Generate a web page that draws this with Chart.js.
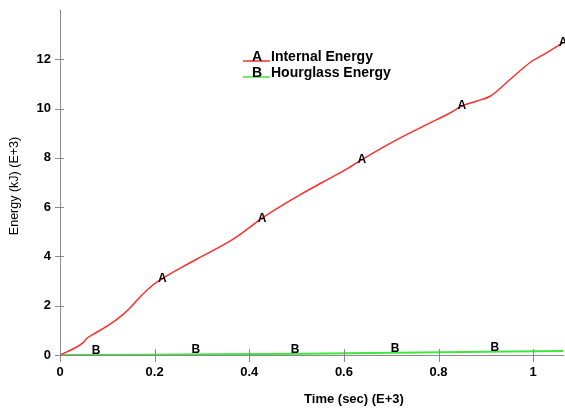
<!DOCTYPE html>
<html>
<head>
<meta charset="utf-8">
<script src="https://cdn.jsdelivr.net/npm/chart.js@4"></script>
<style>
  html, body { margin: 0; padding: 0; background: #fff; }
  #wrap { width: 565px; height: 409px; position: relative; }
</style>
</head>
<body>
<div id="wrap"><canvas id="energy-chart"></canvas></div>
<script>
// Energy history: internal vs hourglass (both scaled E+3)

const timeA = [0, 0.049, 0.057, 0.072, 0.106, 0.134, 0.15, 0.169, 0.197, 0.216, 0.261, 0.31, 0.366, 0.401, 0.427, 0.472, 0.507, 0.556, 0.6, 0.638, 0.718, 0.782, 0.824, 0.849, 0.88, 0.909, 0.951, 0.993, 1.028, 1.063];
const internalEnergy = [0, 0.5, 0.68, 0.86, 1.25, 1.66, 1.95, 2.35, 2.85, 3.1, 3.6, 4.1, 4.7, 5.18, 5.55, 6.1, 6.5, 7.02, 7.48, 7.93, 8.8, 9.42, 9.82, 10.1, 10.3, 10.5, 11.18, 11.86, 12.26, 12.67];

const timeB = [0, 0.18, 0.33, 0.52, 0.65, 0.81, 0.95, 1.063];
const hourglassEnergy = [0, 0.01, 0.03, 0.05, 0.08, 0.11, 0.14, 0.16];

// curve id letters sitting on the lines
const markerTimeA = [0.216, 0.427, 0.638, 0.849, 1.063];
const markerEnergyA = [3.1, 5.55, 7.93, 10.1, 12.67];
const markerTimeB = [0.076, 0.287, 0.497, 0.708, 0.919];
const markerEnergyB = [0.004, 0.025, 0.05, 0.09, 0.13];

const seriesNames = ['Internal Energy', 'Hourglass Energy'];
const seriesLetters = ['A', 'B'];
const seriesColors = ['#ff2d2d', '#3ee63e'];

const xTicks = [0, 0.2, 0.4, 0.6, 0.8, 1];
const yTicks = [0, 2, 4, 6, 8, 10, 12];

const FONT = '"Liberation Sans", Arial, sans-serif';

function pts(xs, ys) {
    return xs.map((x, i) => ({ x: x, y: ys[i] }));
}

const axisGray = '#8a8a8a';

const decorPlugin = {
    id: 'decor',
    afterDraw(chart) {
        const ctx = chart.ctx;
        const xs = chart.scales.x;
        const ys = chart.scales.y;
        const area = chart.chartArea;
        ctx.save();

        // tick marks crossing the axes
        ctx.strokeStyle = axisGray;
        ctx.lineWidth = 1;
        ctx.beginPath();
        xTicks.forEach(v => {
            const px = Math.round(xs.getPixelForValue(v)) + 0.5;
            ctx.moveTo(px, area.bottom - 6);
            ctx.lineTo(px, area.bottom + 7);
        });
        yTicks.forEach(v => {
            const py = Math.round(ys.getPixelForValue(v)) + 0.5;
            ctx.moveTo(area.left - 5, py);
            ctx.lineTo(area.left + 4, py);
        });
        ctx.stroke();

        // letters on the curves
        ctx.fillStyle = '#000';
        ctx.font = 'bold 12px ' + FONT;
        ctx.textAlign = 'center';
        chart.getDatasetMeta(2).data.forEach(p => {
            ctx.textBaseline = 'middle';
            ctx.fillText('A', p.x, p.y);
        });
        chart.getDatasetMeta(3).data.forEach(p => {
            ctx.textBaseline = 'alphabetic';
            ctx.fillText('B', p.x, p.y - 1);
        });

        // legend
        ctx.font = 'bold 14px ' + FONT;
        ctx.textBaseline = 'alphabetic';
        seriesNames.forEach((name, i) => {
            const base = 61 + i * 16;
            ctx.strokeStyle = seriesColors[i];
            ctx.lineWidth = 1.5;
            ctx.beginPath();
            ctx.moveTo(243, base);
            ctx.lineTo(270, base);
            ctx.stroke();
            ctx.fillStyle = '#000';
            ctx.textAlign = 'center';
            ctx.fillText(seriesLetters[i], 257, base);
            ctx.textAlign = 'left';
            ctx.fillText(name, 271, base);
        });

        // axis titles
        ctx.fillStyle = '#000';
        ctx.textAlign = 'center';
        ctx.textBaseline = 'middle';
        ctx.font = 'bold 13px ' + FONT;
        ctx.fillText('Time (sec) (E+3)', 354, 399);
        ctx.translate(15, 186);
        ctx.rotate(-Math.PI / 2);
        ctx.font = '12.5px ' + FONT;
        ctx.fillText('Energy (kJ) (E+3)', 0, 0);
        ctx.restore();
    }
};

new Chart(document.getElementById('energy-chart'), {
    type: 'scatter',
    data: {
        datasets: [
            {
                data: pts(timeA, internalEnergy),
                borderColor: seriesColors[0],
                borderWidth: 1.5,
                showLine: true,
                pointRadius: 0,
                cubicInterpolationMode: 'monotone'
            },
            {
                data: pts(timeB, hourglassEnergy),
                borderColor: seriesColors[1],
                borderWidth: 2,
                showLine: true,
                pointRadius: 0
            },
            { data: pts(markerTimeA, markerEnergyA), pointRadius: 0, showLine: false },
            { data: pts(markerTimeB, markerEnergyB), pointRadius: 0, showLine: false }
        ]
    },
    options: {
        responsive: true,
        maintainAspectRatio: false,
        animation: false,
        devicePixelRatio: 1,
        layout: { padding: { top: 10, right: 2, left: 0, bottom: 0 } },
        plugins: {
            legend: { display: false },
            tooltip: { enabled: false }
        },
        scales: {
            x: {
                type: 'linear',
                min: 0,
                max: 1.063,
                grid: { display: false, drawTicks: false },
                border: { display: true, color: axisGray },
                ticks: {
                    stepSize: 0.2,
                    includeBounds: false,
                    padding: 10,
                    color: '#000',
                    font: { family: FONT, size: 13, weight: 'bold' },
                    maxRotation: 0,
                    callback: v => String(+v.toFixed(1))
                },
                afterFit: s => { s.height = 54; s.paddingLeft = 0; s.paddingRight = 0; }
            },
            y: {
                type: 'linear',
                min: 0,
                max: 14,
                grid: { display: false, drawTicks: false },
                border: { display: true, color: axisGray },
                ticks: {
                    stepSize: 2,
                    includeBounds: false,
                    padding: 9,
                    color: '#000',
                    font: { family: FONT, size: 13, weight: 'bold' },
                    callback: v => (yTicks.includes(v) ? v : '')
                },
                afterFit: s => { s.width = 60; s.paddingTop = 0; s.paddingBottom = 0; }
            }
        }
    },
    plugins: [decorPlugin]
});
</script>
</body>
</html>
